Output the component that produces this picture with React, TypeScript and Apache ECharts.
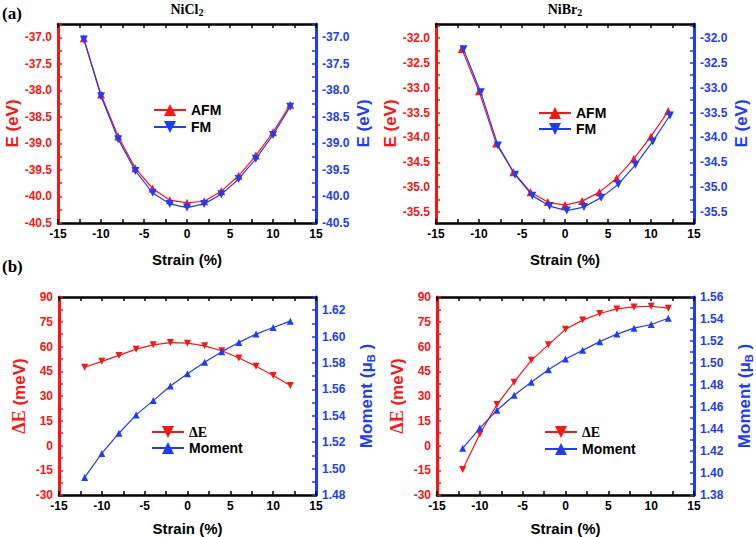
import React, { useEffect, useRef } from 'react';
import * as echarts from 'echarts';

// ---------------- data ----------------
const strain = [-12, -10, -8, -6, -4, -2, 0, 2, 4, 6, 8, 10, 12];
const nibr2FMStrain = [-11.8, -9.8, -7.8, -5.8, -3.8, -1.8, 0.2, 2.2, 4.2, 6.2, 8.2, 10.2, 12.2];

const nicl2AFM = [-37.02, -38.08, -38.87, -39.47, -39.85, -40.07, -40.12, -40.09, -39.9, -39.61, -39.23, -38.79, -38.27];
const nicl2FM = [-37.04, -38.11, -38.92, -39.52, -39.93, -40.14, -40.21, -40.14, -39.96, -39.67, -39.29, -38.84, -38.31];

const nibr2AFM = [-32.22, -33.07, -34.12, -34.7, -35.1, -35.3, -35.36, -35.28, -35.1, -34.82, -34.43, -33.98, -33.47];
const nibr2FM = [-32.23, -33.09, -34.16, -34.75, -35.17, -35.38, -35.47, -35.4, -35.21, -34.94, -34.55, -34.08, -33.56];

const nicl2DeltaE = [47.4, 51, 54.6, 58.4, 61, 62.4, 62, 60.4, 57.4, 53, 48, 42.4, 36.4];
const nicl2Moment = [1.4933, 1.5115, 1.5268, 1.5407, 1.5515, 1.5626, 1.5719, 1.5805, 1.5886, 1.5956, 1.6019, 1.6069, 1.6117];

const nibr2DeltaE = [-14.6, 7, 24.8, 38.4, 51.6, 61, 70.4, 76, 80, 82.8, 84, 84.4, 83.2];
const nibr2Moment = [1.4224, 1.4408, 1.4571, 1.4706, 1.4826, 1.4938, 1.5037, 1.5115, 1.5194, 1.5263, 1.5317, 1.535, 1.5407];

// tick labels
const xTicks = [-15, -10, -5, 0, 5, 10, 15];
const eTicksNiCl2 = [-40.5, -40.0, -39.5, -39.0, -38.5, -38.0, -37.5, -37.0];
const eTicksNiBr2 = [-35.5, -35.0, -34.5, -34.0, -33.5, -33.0, -32.5, -32.0];
const dETicks = [-30, -15, 0, 15, 30, 45, 60, 75, 90];
const momentTicksNiCl2 = [1.48, 1.5, 1.52, 1.54, 1.56, 1.58, 1.6, 1.62];
const momentTicksNiBr2 = [1.38, 1.4, 1.42, 1.44, 1.46, 1.48, 1.5, 1.52, 1.54, 1.56];

// ---------------- styling ----------------
const RED = '#FF1414';
const BLUE = '#1E3CFF';
const SANS = '"Liberation Sans", Arial, sans-serif';
const SERIF = '"Liberation Serif", "Times New Roman", serif';

function withMinor(major: number[], min: number, max: number): number[] {
  const step = (major[1] - major[0]) / 2;
  let v = major[0];
  while (v - step >= min - 1e-9) v -= step;
  const out: number[] = [];
  for (; v <= max + 1e-9; v += step) out.push(+v.toFixed(6));
  return out;
}

const grids = [
  { left: 58, top: 24, width: 258, height: 199 },
  { left: 436, top: 24, width: 258, height: 199 },
  { left: 59, top: 297, width: 257, height: 199 },
  { left: 437, top: 297, width: 257, height: 199 },
];

function bottomX(g: number, nameGap: number) {
  return {
    type: 'value', gridIndex: g, position: 'bottom', min: -15, max: 15,
    axisLine: { show: true, onZero: false, lineStyle: { color: '#000', width: 2.5 } },
    axisTick: { show: true, inside: true, length: 4, customValues: withMinor(xTicks, -15, 15), lineStyle: { color: '#000', width: 1.5 } },
    axisLabel: { customValues: xTicks, color: '#000', fontFamily: SANS, fontWeight: 'bold', fontSize: 12, margin: 5 },
    splitLine: { show: false },
    name: 'Strain (%)', nameLocation: 'middle', nameGap,
    nameTextStyle: { color: '#000', fontFamily: SANS, fontWeight: 'bold', fontSize: 15 },
  };
}
function topX(g: number) {
  return {
    type: 'value', gridIndex: g, position: 'top', min: -15, max: 15,
    axisLine: { show: true, onZero: false, lineStyle: { color: '#000', width: 2.5 } },
    axisTick: { show: true, inside: true, length: 4, customValues: withMinor(xTicks, -15, 15), lineStyle: { color: '#000', width: 1.5 } },
    axisLabel: { show: false },
    splitLine: { show: false },
  };
}
function yAx(g: number, side: 'left' | 'right', min: number, max: number, ticks: number[], digits: number, name: any, nameGap: number, rich?: any) {
  const c = side === 'left' ? RED : BLUE;
  return {
    type: 'value', gridIndex: g, position: side, min, max,
    axisLine: { show: true, onZero: false, lineStyle: { color: c, width: 3 } },
    axisTick: { show: true, inside: true, length: 4, customValues: withMinor(ticks, min, max), lineStyle: { color: c, width: 1.5 } },
    axisLabel: {
      customValues: ticks, color: c, fontFamily: SANS, fontWeight: 'bold', fontSize: 12, margin: 6,
      formatter: (v: number) => v.toFixed(digits),
    },
    splitLine: { show: false },
    name, nameLocation: 'middle', nameGap, nameRotate: 90,
    nameTextStyle: { color: c, fontFamily: SANS, fontWeight: 'bold', fontSize: 17, rich },
  };
}

function line(name: string, xi: number, yi: number, xs: number[], ys: number[], color: string, down: boolean, z: number, size: number) {
  return {
    type: 'line', name, xAxisIndex: xi, yAxisIndex: yi,
    data: xs.map((x, i) => [x, ys[i]]),
    symbol: 'triangle', symbolSize: size, symbolRotate: down ? 180 : 0,
    itemStyle: { color }, lineStyle: { color, width: 1.2 }, z,
  };
}

const momentName = (c: string) => ({
  name: '{a|Moment (}{m|μ}{b|B}{a| )}',
  rich: {
    a: { color: c, fontFamily: SANS, fontWeight: 'bold', fontSize: 17 },
    m: { color: c, fontFamily: SANS, fontSize: 17 },
    b: { color: c, fontFamily: SANS, fontWeight: 'bold', fontSize: 11, padding: [9, 0, 0, 0] },
  },
});
const deName = {
  name: '{d|ΔE}{a| (meV)}',
  rich: {
    d: { color: RED, fontFamily: SERIF, fontWeight: 'bold', fontSize: 18 },
    a: { color: RED, fontFamily: SANS, fontWeight: 'bold', fontSize: 17 },
  },
};

function legend(names: string[], left: number, top: number, gap: number) {
  return {
    data: names, left, top, orient: 'vertical', itemWidth: 32, itemHeight: 15, itemGap: gap, padding: 0,
    selectedMode: false,
    textStyle: {
      color: '#000', fontFamily: SANS, fontWeight: 'bold', fontSize: 14,
      rich: { s: { color: '#000', fontFamily: SERIF, fontWeight: 'bold', fontSize: 14 } },
    },
    formatter: (n: string) => (n === 'ΔE' ? '{s|ΔE}' : n),
  };
}

function titleText(x: number, y: number, main: string, sub: string) {
  return {
    type: 'text', x, y,
    style: {
      text: `{m|${main}}{s|${sub}}`, align: 'center', verticalAlign: 'middle',
      rich: {
        m: { fontFamily: SERIF, fontWeight: 'bold', fontSize: 14, fill: '#000', color: '#000' },
        s: { fontFamily: SERIF, fontWeight: 'bold', fontSize: 10, fill: '#000', color: '#000', padding: [6, 0, 0, 0] },
      },
    },
  };
}

export default function App() {
  const ref = useRef<HTMLDivElement>(null);
  useEffect(() => {
    if (!ref.current) return;
    const chart = echarts.init(ref.current, undefined, { renderer: 'svg' });
    const mR = momentName(BLUE);
    chart.setOption({
      animation: false,
      backgroundColor: '#fff',
      grid: grids,
      xAxis: [bottomX(0, 29), topX(0), bottomX(1, 29), topX(1), bottomX(2, 26), topX(2), bottomX(3, 26), topX(3)],
      yAxis: [
        yAx(0, 'left', -40.5, -36.75, eTicksNiCl2, 1, 'E (eV)', 37),
        yAx(0, 'right', -40.5, -36.75, eTicksNiCl2, 1, 'E (eV)', 39),
        yAx(1, 'left', -35.72, -31.72, eTicksNiBr2, 1, 'E (eV)', 37),
        yAx(1, 'right', -35.72, -31.72, eTicksNiBr2, 1, 'E (eV)', 39),
        yAx(2, 'left', -30, 90, dETicks, 0, deName.name, 31, deName.rich),
        yAx(2, 'right', 1.48, 1.63, momentTicksNiCl2, 2, mR.name, 40, mR.rich),
        yAx(3, 'left', -30, 90, dETicks, 0, deName.name, 31, deName.rich),
        yAx(3, 'right', 1.38, 1.56, momentTicksNiBr2, 2, mR.name, 40, mR.rich),
      ],
      legend: [
        legend(['AFM', 'FM'], 153, 103, 3),
        legend(['AFM', 'FM'], 538, 106, 2),
        legend(['ΔE', 'Moment'], 151, 425, 2),
        legend(['ΔE', 'Moment'], 544, 425, 3),
      ],
      series: [
        line('AFM', 0, 0, strain, nicl2AFM, RED, false, 2, 8),
        line('FM', 0, 1, strain, nicl2FM, BLUE, true, 3, 8),
        line('AFM', 2, 2, strain, nibr2AFM, RED, false, 2, 8),
        line('FM', 2, 3, nibr2FMStrain, nibr2FM, BLUE, true, 3, 8),
        line('ΔE', 4, 4, strain, nicl2DeltaE, RED, true, 2, 7),
        line('Moment', 4, 5, strain, nicl2Moment, BLUE, false, 3, 7),
        line('ΔE', 6, 6, strain, nibr2DeltaE, RED, true, 2, 7),
        line('Moment', 6, 7, strain, nibr2Moment, BLUE, false, 3, 7),
      ],
      graphic: [
        { type: 'text', x: 2, y: 5, style: { text: '(a)', fontFamily: SERIF, fontWeight: 'bold', fontSize: 17, fill: '#000' } },
        { type: 'text', x: 2, y: 258, style: { text: '(b)', fontFamily: SERIF, fontWeight: 'bold', fontSize: 17, fill: '#000' } },
        titleText(187, 9, 'NiCl', '2'),
        titleText(565, 9, 'NiBr', '2'),
      ],
    });
    return () => chart.dispose();
  }, []);
  return <div ref={ref} style={{ position: 'fixed', left: 0, top: 0, width: 756, height: 537, background: '#fff' }} />;
}
